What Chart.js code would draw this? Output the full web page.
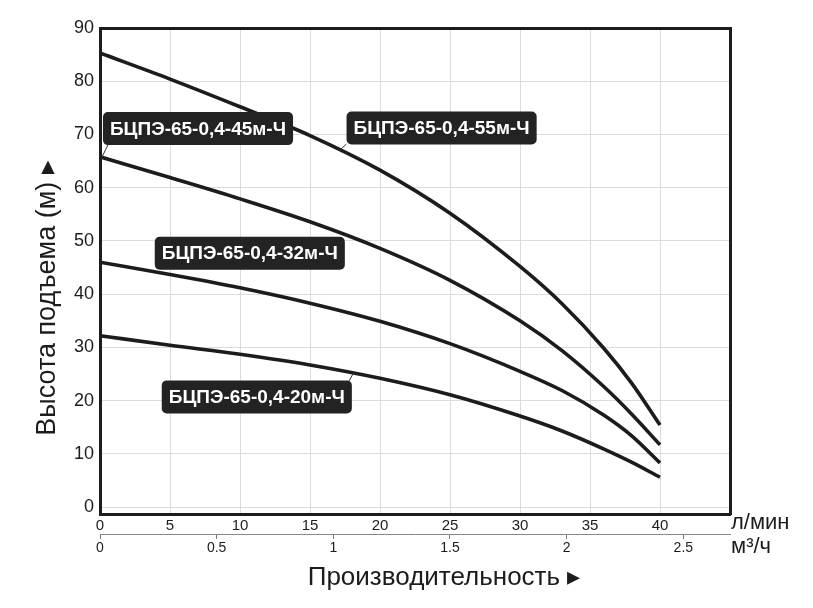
<!DOCTYPE html>
<html>
<head>
<meta charset="utf-8">
<script src="https://cdn.jsdelivr.net/npm/chart.js@4.4.0/dist/chart.umd.min.js"></script>
<style>
  body { margin: 0; background: #fff; }
  canvas { display: block; }
</style>
</head>
<body>
<canvas id="pump-chart" width="813" height="608"></canvas>
<script>
// flow in l/min and head in metres
const flowLpm = [0, 5, 10, 15, 20, 25, 30, 33, 36, 38, 40];
const head55 = [85.3, 80.4, 75.2, 69.8, 63.3, 55.2, 45.2, 38.2, 29.8, 23.2, 15.4];
const head45 = [65.8, 61.9, 57.9, 53.6, 48.6, 42.6, 35.0, 29.4, 22.6, 17.4, 11.7];
const head32 = [46.0, 43.7, 41.2, 38.3, 34.9, 30.7, 25.5, 21.9, 17.25, 13.35, 8.3];
const head20 = [32.2, 30.4, 28.7, 26.7, 24.2, 21.1, 17.1, 14.3, 10.9, 8.4, 5.6];

const pumpNames = ['БЦПЭ-65-0,4-55м-Ч', 'БЦПЭ-65-0,4-45м-Ч', 'БЦПЭ-65-0,4-32м-Ч', 'БЦПЭ-65-0,4-20м-Ч'];
const headTicks = [0, 10, 20, 30, 40, 50, 60, 70, 80, 90];
const m3hTicks = [0, 0.5, 1, 1.5, 2, 2.5];
const flowMax = 45;

const ink = '#1c1c1c';
const fontFamily = '"Liberation Sans", Arial, sans-serif';

// label boxes: centre (flow, head) and optional pointer to the curve
const callouts = [
    { text: pumpNames[1], at: [7.0, 71.1], pointer: [[0.6, 68.2], [0.15, 65.8]] },
    { text: pumpNames[0], at: [24.4, 71.2], pointer: [[17.6, 68.2], [17.1, 67.0]] },
    { text: pumpNames[2], at: [10.7, 47.7] },
    { text: pumpNames[3], at: [11.2, 20.7], pointer: [[17.8, 23.7], [18.1, 25.2]] }
];

function toPoints(values) {
    return flowLpm.map((q, i) => ({ x: q, y: values[i] }));
}

function curve(values) {
    return {
        data: toPoints(values),
        borderColor: ink,
        borderWidth: 3.6,
        pointRadius: 0,
        fill: false,
        cubicInterpolationMode: 'monotone'
    };
}

const calloutPlugin = {
    id: 'callouts',
    afterDatasetsDraw(chart) {
        const ctx = chart.ctx;
        const x = chart.scales.x;
        const y = chart.scales.y;
        ctx.save();
        ctx.font = 'bold 19px ' + fontFamily;
        callouts.forEach(c => {
            if (c.pointer) {
                ctx.strokeStyle = '#333';
                ctx.lineWidth = 1;
                ctx.beginPath();
                ctx.moveTo(x.getPixelForValue(c.pointer[0][0]), y.getPixelForValue(c.pointer[0][1]));
                ctx.lineTo(x.getPixelForValue(c.pointer[1][0]), y.getPixelForValue(c.pointer[1][1]));
                ctx.stroke();
            }
            const cx = x.getPixelForValue(c.at[0]);
            const cy = y.getPixelForValue(c.at[1]);
            const w = ctx.measureText(c.text).width + 14;
            const h = 33;
            ctx.fillStyle = '#232323';
            ctx.beginPath();
            ctx.roundRect(cx - w / 2, cy - h / 2, w, h, 5);
            ctx.fill();
            ctx.fillStyle = '#fff';
            ctx.textAlign = 'center';
            ctx.textBaseline = 'middle';
            ctx.fillText(c.text, cx, cy + 1);
        });
        ctx.restore();
    }
};

const titlesPlugin = {
    id: 'titles',
    afterDraw(chart) {
        const ctx = chart.ctx;
        const area = chart.chartArea;
        ctx.save();
        ctx.fillStyle = ink;
        ctx.textBaseline = 'middle';

        ctx.font = '22px ' + fontFamily;
        ctx.textAlign = 'left';
        ctx.fillText('л/мин', area.right + 1, 523);
        ctx.fillText('м³/ч', area.right + 1, 547);

        ctx.font = '26px ' + fontFamily;
        ctx.textAlign = 'center';
        ctx.fillText('Производительность ▸', 444, 578);

        // rotated title: the right-pointing triangle ends up pointing up
        ctx.translate(48, 298);
        ctx.rotate(-Math.PI / 2);
        ctx.font = '27px ' + fontFamily;
        ctx.fillText('Высота подъема (м) ▸', 0, 0);
        ctx.restore();
    }
};

new Chart(document.getElementById('pump-chart'), {
    type: 'line',
    data: {
        datasets: [curve(head55), curve(head45), curve(head32), curve(head20)]
    },
    options: {
        responsive: false,
        animation: false,
        devicePixelRatio: 1,
        layout: { padding: { top: 28, right: 83, left: 0, bottom: 48 } },
        plugins: {
            legend: { display: false },
            tooltip: { enabled: false }
        },
        scales: {
            x: {
                type: 'linear',
                position: 'bottom',
                min: 0,
                max: flowMax,
                ticks: {
                    stepSize: 5,
                    padding: 3,
                    color: ink,
                    font: { family: fontFamily, size: 15 },
                    maxRotation: 0,
                    callback: v => (v <= 40 ? String(v) : '')
                },
                grid: { color: '#dcdcdc', lineWidth: 1, drawTicks: false },
                border: { display: true, color: ink, width: 3 },
                afterFit: s => { s.height = 20; }
            },
            x2: {
                type: 'linear',
                position: 'bottom',
                min: 0,
                max: flowMax * 60 / 1000,
                afterBuildTicks: s => { s.ticks = m3hTicks.map(v => ({ value: v })); },
                ticks: {
                    padding: 1,
                    color: ink,
                    font: { family: fontFamily, size: 14 },
                    maxRotation: 0,
                    autoSkip: false,
                    callback: v => String(v)
                },
                grid: { drawOnChartArea: false, drawTicks: true, tickLength: 5, color: '#777' },
                border: { display: true, color: '#888', width: 1 },
                afterFit: s => { s.height = 26; }
            },
            xTop: {
                type: 'linear',
                position: 'top',
                min: 0,
                max: flowMax,
                ticks: { display: false },
                grid: { display: false },
                border: { display: true, color: ink, width: 3 },
                afterFit: s => { s.height = 0; }
            },
            y: {
                type: 'linear',
                position: 'left',
                min: -1.3,
                max: 90,
                afterBuildTicks: s => { s.ticks = headTicks.map(v => ({ value: v })); },
                ticks: {
                    padding: 6,
                    color: ink,
                    font: { family: fontFamily, size: 18 }
                },
                grid: { color: '#dcdcdc', lineWidth: 1, drawTicks: false },
                border: { display: true, color: ink, width: 3 },
                afterFit: s => { s.width = 100; }
            },
            yRight: {
                type: 'linear',
                position: 'right',
                min: -1.3,
                max: 90,
                ticks: { display: false },
                grid: { display: false },
                border: { display: true, color: ink, width: 3 },
                afterFit: s => { s.width = 0; }
            }
        }
    },
    plugins: [calloutPlugin, titlesPlugin]
});
</script>
</body>
</html>
